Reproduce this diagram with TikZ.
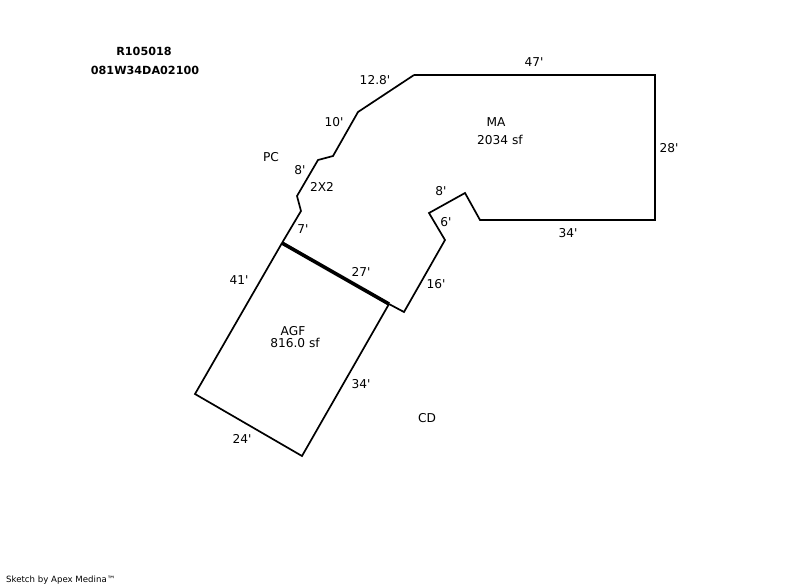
\documentclass[tikz,border=0pt]{standalone}
\usepackage{fontspec}
\setmainfont{DejaVu Sans}[Ligatures=TeXOff]
\tikzset{
    wall/.style={draw=black,line width=1.7pt,line join=miter},
    lbl/.style={inner sep=0pt,font=\fontsize{12.2pt}{14pt}\selectfont},
    head/.style={inner sep=0pt,font=\fontsize{11.2pt}{13pt}\selectfont\bfseries}
}
\begin{document}
\begin{tikzpicture}[x=1pt,y=-1pt]
    \useasboundingbox (0,0) rectangle (800,587);
    \coordinate (a) at (414,75);
    \coordinate (b) at (655,75);
    \coordinate (c) at (655,220);
    \coordinate (d) at (480,220);
    \coordinate (e) at (465,193);
    \coordinate (f) at (429,213);
    \coordinate (g) at (445,240);
    \coordinate (h) at (404,312);
    \coordinate (i) at (389,304);
    \coordinate (j) at (282,243);
    \coordinate (k) at (301,211);
    \coordinate (l) at (297,196);
    \coordinate (m) at (318,160);
    \coordinate (n) at (333,156);
    \coordinate (o) at (358,112);
    \coordinate (p) at (195,394);
    \coordinate (q) at (302,456);
    \draw[wall] (a) -- (b) -- (c) -- (d) -- (e) -- (f) -- (g) -- (h) -- (i);
    \draw[wall] (j) -- (k) -- (l) -- (m) -- (n) -- (o) -- (a);
    \draw[wall] (j) -- (p) -- (q) -- (i);
    \draw[draw=black,line width=3.6pt] (j) -- (i);
    \node[head] (parcel) at (144,51) {R105018};
    \node[head] (acct) at (145,70) {081W34DA02100};
    \node[lbl] (lma) at (496,122) {MA};
    \node[lbl] (sfma) at (500,140) {2034 sf};
    \node[lbl] (lpc) at (271,157) {PC};
    \node[lbl] (lxx) at (322,187) {2X2};
    \node[lbl] (lagf) at (293,331) {AGF};
    \node[lbl] (sfagf) at (295,343) {816.0 sf};
    \node[lbl] (lcd) at (427,418) {CD};
    \node[lbl] (d1) at (375,80) {12.8'};
    \node[lbl] (d2) at (534,62) {47'};
    \node[lbl] (d3) at (669,148) {28'};
    \node[lbl] (d4) at (568,233) {34'};
    \node[lbl] (d5) at (441,191) {8'};
    \node[lbl] (d6) at (446,222) {6'};
    \node[lbl] (d7) at (436,284) {16'};
    \node[lbl] (d8) at (361,272) {27'};
    \node[lbl] (d9) at (334,122) {10'};
    \node[lbl] (d10) at (300,170) {8'};
    \node[lbl] (d11) at (303,229) {7'};
    \node[lbl] (d12) at (239,280) {41'};
    \node[lbl] (d13) at (361,384) {34'};
    \node[lbl] (d14) at (242,439) {24'};
    \node[inner sep=0pt,anchor=west,font=\fontsize{8.6pt}{10pt}\selectfont] (credit) at (6,580) {Sketch by Apex Medina™};
\end{tikzpicture}
\end{document}
